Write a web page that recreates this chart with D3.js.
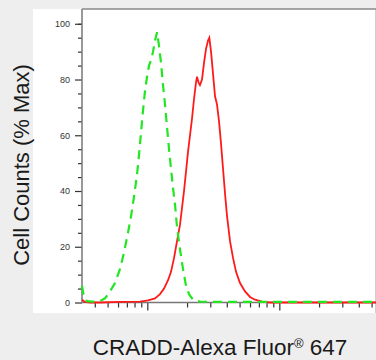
<!DOCTYPE html>
<html>
<head>
<meta charset="utf-8">
<script src="https://cdn.jsdelivr.net/npm/d3@7"></script>
<style>
    body { margin: 0; background: #eeeeee; }
    svg { display: block; }
    .axis-label { font-family: "Liberation Sans", Arial, sans-serif; fill: #1a1a1a; }
    .tick text { font-family: "Liberation Sans", Arial, sans-serif; font-size: 9px; fill: #333; }
</style>
</head>
<body>
<div id="chart"></div>
<script>
// isotype control (green dashed) - intensity vs % max
var ctrlX = [320, 331, 349, 381, 438, 478, 522, 569, 621, 666, 714, 753, 793, 836, 865, 896, 928, 961, 995, 1030,
    1067, 1105, 1144, 1185, 1227, 1270, 1315, 1362, 1410, 1460, 1512, 1566, 1622, 1679, 1770, 1864, 1964, 2069, 2220, 2505, 3553, 54000]
var ctrlY = [6, 2, 0.5, 0.3, 0.5, 1.5, 4, 7, 12, 18, 25, 31, 38, 46, 53, 61, 69, 76, 81, 85,
    87, 90, 94, 97, 92, 86, 78, 71, 63, 55, 48, 41, 35, 27, 19, 12, 6, 3, 1, 0.3, 0.2, 0.2]

// CRADD stained sample (red)
var sampleX = [320, 337, 368, 438, 621, 880, 1012, 1144, 1248, 1338, 1435, 1512, 1594, 1679, 1770, 1832, 1897, 1964, 2033, 2106,
    2181, 2258, 2338, 2379, 2443, 2505, 2596, 2688, 2784, 2883, 2949, 3038, 3146, 3258, 3373, 3493, 3617, 3746, 3879, 4017,
    4232, 4459, 4699, 5039, 5498, 5998, 6545, 7396, 8502, 54000]
var sampleY = [1, 0.2, 0, 0, 0.2, 0.3, 0.8, 1.5, 3, 5, 8, 11, 16, 22, 28, 34, 40, 47, 54, 60,
    66, 73, 79, 81, 79, 78, 80, 86, 91, 94, 95, 90, 82, 74, 71, 65, 57, 48, 39, 31,
    22, 16, 11, 7, 4, 2, 1, 0.3, 0, 0]

var yMajor = [0, 20, 40, 60, 80, 100]
var yMinor = [5, 10, 15, 25, 30, 35, 45, 50, 55, 65, 70, 75, 85, 90, 95, 100]
var xMajor = [1000, 10000]
var xMinor = [400, 500, 600, 700, 800, 900, 2000, 3000, 4000, 5000, 6000, 7000, 8000, 9000, 20000, 30000, 40000, 50000]

var xTitle = "CRADD-Alexa Fluor"
var yTitle = "Cell Counts (% Max)"

var defaultWidth = 376
var defaultHeight = 360
var margin = { top: 9, right: 0, bottom: 57.5, left: 82 }
var width = defaultWidth - margin.left - margin.right
var height = defaultHeight - margin.top - margin.bottom

var svg = d3.select("#chart")
    .append("svg")
        .attr("width", defaultWidth)
        .attr("height", defaultHeight)

// white panel
svg.append("rect")
    .attr("x", 33)
    .attr("y", 9)
    .attr("width", 342)
    .attr("height", 304)
    .attr("fill", "#ffffff")
svg.append("line")
    .attr("x1", 375.5).attr("x2", 375.5)
    .attr("y1", 9).attr("y2", 313)
    .attr("stroke", "#cfcfcf")

var g = svg.append("g")
    .attr("transform", "translate(" + margin.left + "," + margin.top + ")")

var x = d3.scaleLog()
    .domain([320, 54000])
    .range([0, width])

var y = d3.scaleLinear()
    .domain([0, 105.3])
    .range([height, 0])

// axes
var yMajorAxis = d3.axisLeft(y).tickValues(yMajor).tickSize(7).tickPadding(5).tickSizeOuter(0)
var yMinorAxis = d3.axisLeft(y).tickValues(yMinor).tickSize(4).tickFormat("").tickSizeOuter(0)
var xMajorAxis = d3.axisBottom(x).tickValues(xMajor).tickSize(8).tickFormat("").tickSizeOuter(0)
var xMinorAxis = d3.axisBottom(x).tickValues(xMinor).tickSize(5).tickFormat("").tickSizeOuter(0)

g.append("g").call(yMinorAxis)
g.append("g").call(yMajorAxis)
g.append("g").attr("transform", "translate(0," + height + ")").call(xMinorAxis)
g.append("g").attr("transform", "translate(0," + height + ")").call(xMajorAxis)

g.selectAll(".domain").remove()
g.selectAll(".tick line").attr("stroke", "#333").attr("stroke-width", 1.2)

// frame lines: left, bottom, top
g.append("line")
    .attr("x1", 0).attr("x2", 0)
    .attr("y1", 0).attr("y2", height)
    .attr("stroke", "#777").attr("stroke-width", 1.5)
g.append("line")
    .attr("x1", 0).attr("x2", width)
    .attr("y1", height).attr("y2", height)
    .attr("stroke", "#777").attr("stroke-width", 1.5)
g.append("line")
    .attr("x1", 0).attr("x2", width)
    .attr("y1", 0).attr("y2", 0)
    .attr("stroke", "#888").attr("stroke-width", 1.5)

var line = d3.line()
    .x(d => x(d[0]))
    .y(d => y(d[1]))

var ctrlData = ctrlX.map((v, i) => [v, ctrlY[i]])
var sampleData = sampleX.map((v, i) => [v, sampleY[i]])

g.append("path")
    .datum(sampleData)
    .attr("d", line)
    .attr("fill", "none")
    .attr("stroke", "#ff1a1a")
    .attr("stroke-width", 1.8)

g.append("path")
    .datum(ctrlData)
    .attr("d", line)
    .attr("fill", "none")
    .attr("stroke", "#22e622")
    .attr("stroke-width", 2.2)
    .attr("stroke-dasharray", "9,6")

// titles
svg.append("text")
    .attr("class", "axis-label")
    .attr("transform", "translate(29," + 165 + ") rotate(-90)")
    .attr("text-anchor", "middle")
    .attr("font-size", 22)
    .text(yTitle)

var xt = svg.append("text")
    .attr("class", "axis-label")
    .attr("x", 220)
    .attr("y", 355)
    .attr("text-anchor", "middle")
    .attr("font-size", 22.5)
xt.append("tspan").text(xTitle)
xt.append("tspan").attr("font-size", 13).attr("dy", -7).text("®")
xt.append("tspan").attr("dy", 7).text(" 647")
</script>
</body>
</html>
